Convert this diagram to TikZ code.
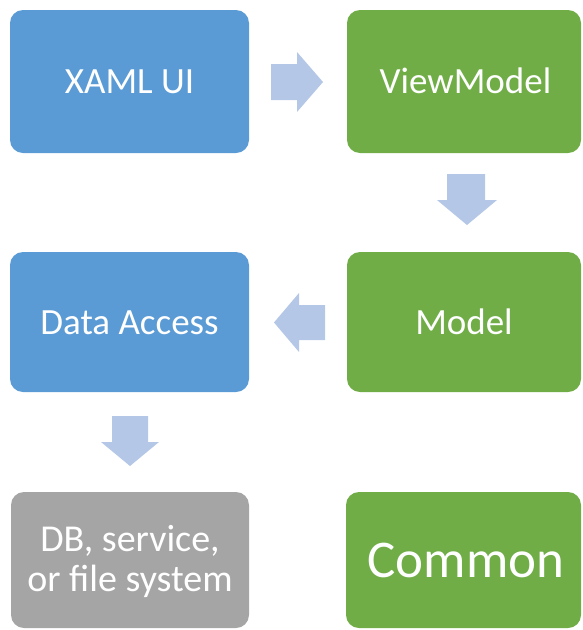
\documentclass[tikz,border=0pt]{standalone}
\usepackage{fontspec}
\setmainfont{Carlito}
\definecolor{cblue}{HTML}{5B9BD5}
\definecolor{cgreen}{HTML}{70AD47}
\definecolor{cgray}{HTML}{A5A5A5}
\definecolor{carrow}{HTML}{B4C7E7}
\begin{document}
\begin{tikzpicture}[x=1pt,y=-1pt,
  lbl/.style={text=white, inner sep=0pt, font=\fontsize{37}{40}\selectfont, text height=24pt, text depth=0pt},
  blockarrow/.style={fill=carrow, draw=none}]
\useasboundingbox (0,0) rectangle (582,630);
% boxes
\fill[cblue, rounded corners=13pt] (10,10) rectangle (249,153);
\fill[cgreen, rounded corners=13pt] (347,10) rectangle (581,153);
\fill[cblue, rounded corners=13pt] (10,252) rectangle (249,392);
\fill[cgreen, rounded corners=13pt] (347,252) rectangle (581,392);
\fill[cgray, rounded corners=13pt] (11,492) rectangle (249,628);
\fill[cgreen, rounded corners=13pt] (346,492) rectangle (581,628);
% labels
\node[lbl] (xaml) at (129.5,81.5) {XAML UI};
\node[lbl] (vm) at (465.5,81.5) {ViewModel};
\node[lbl] (da) at (129.5,322) {Data Access};
\node[lbl] (model) at (464,322) {Model};
\node[text=white, inner sep=0pt, align=center, font=\fontsize{38}{40}\selectfont] (db) at (130,561) {DB, service,\\or file system};
\node[text=white, inner sep=0pt, font=\fontsize{53}{56}\selectfont, text height=34pt, text depth=0pt] (common) at (466,560) {Common};
% block arrows
\fill[blockarrow] (271,64) -- (297,64) -- (297,52) -- (323,82) -- (297,112) -- (297,100) -- (271,100) -- cycle;
\fill[blockarrow] (447,174) -- (485,174) -- (485,200) -- (497,200) -- (467,225) -- (437,200) -- (447,200) -- cycle;
\fill[blockarrow] (325,305) -- (299,305) -- (299,293) -- (274,322.5) -- (299,352) -- (299,340) -- (325,340) -- cycle;
\fill[blockarrow] (112,416) -- (148,416) -- (148,442) -- (159,442) -- (130,466) -- (101,442) -- (112,442) -- cycle;
\end{tikzpicture}
\end{document}
